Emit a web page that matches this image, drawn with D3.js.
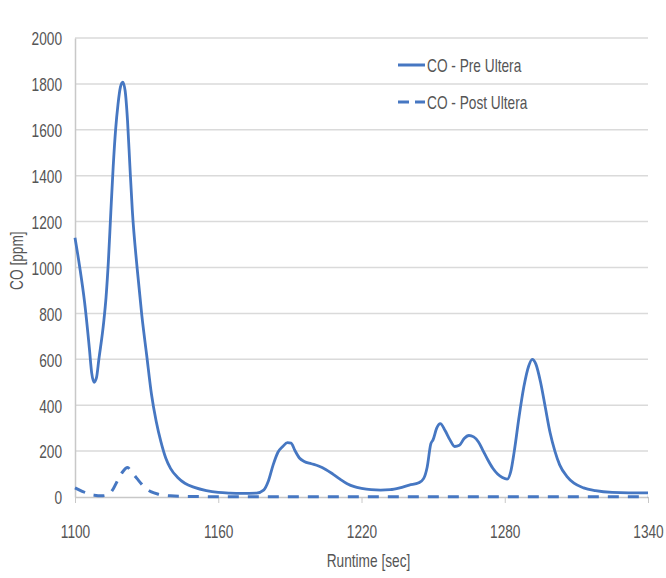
<!DOCTYPE html>
<html>
<head>
<meta charset="utf-8">
<script src="https://cdn.jsdelivr.net/npm/d3@7"></script>
<style>
  body { margin: 0; background: #fff; }
  text { font-family: "Liberation Sans", Arial, sans-serif; fill: #555; }
</style>
</head>
<body>
<div id="chart"></div>
<script>
// CO concentration over runtime
var preTime = [1100, 1102, 1104, 1106, 1107, 1108, 1109, 1110, 1112, 1113, 1114, 1115, 1116, 1117, 1118,
  1119, 1120, 1121, 1122, 1123, 1124, 1126, 1128, 1130, 1132, 1134, 1136, 1138, 1140, 1143, 1146, 1150,
  1155, 1160, 1165, 1170, 1176, 1179, 1181, 1183, 1185, 1187, 1189, 1190.5, 1192, 1194, 1196, 1199, 1202,
  1205, 1208, 1211, 1214, 1217, 1220, 1224, 1228, 1232, 1236, 1240, 1244, 1246, 1247.5, 1249, 1250, 1251.5,
  1253, 1255, 1257, 1259, 1261, 1263, 1265, 1267, 1269, 1271, 1273, 1275, 1277, 1279, 1281, 1282.5, 1284,
  1286, 1288, 1290, 1291.5, 1293, 1295, 1297, 1299, 1301, 1303, 1306, 1309, 1313, 1318, 1325, 1332, 1340];
var preCO = [1130, 1000, 850, 650, 540, 500, 520, 600, 760, 870, 1030, 1240, 1440, 1600, 1710,
  1785, 1808, 1770, 1640, 1440, 1250, 1000, 790, 620, 450, 330, 240, 170, 125, 85, 60, 42,
  28, 20, 17, 16, 17, 30, 70, 140, 195, 220, 237, 235, 205, 170, 155, 145, 135,
  120, 100, 78, 58, 45, 38, 32, 30, 32, 40, 52, 62, 80, 130, 230, 250, 300,
  320, 290, 250, 220, 225, 255, 268, 262, 240, 200, 160, 125, 100, 85, 78, 110, 200,
  350, 480, 570, 600, 580, 500, 390, 280, 200, 140, 90, 60, 40, 28, 20, 18, 18];

var postTime = [1100, 1103, 1106, 1108, 1111, 1114, 1116, 1118, 1120, 1122, 1124, 1126, 1128, 1130, 1132,
  1135, 1140, 1150, 1160, 1200, 1250, 1300, 1340];
var postCO = [40, 25, 12, 8, 5, 10, 35, 75, 110, 128, 105, 80, 55, 35, 22,
  12, 5, 2, 1, 1, 1, 1, 1];

var yTicks = [0, 200, 400, 600, 800, 1000, 1200, 1400, 1600, 1800, 2000];
var xTicks = [1100, 1160, 1220, 1280, 1340];
var seriesNames = ['CO - Pre Ultera', 'CO - Post Ultera'];

var width = 666, height = 578,
    margin = {top: 38, right: 18, bottom: 81, left: 75},
    color = '#4677c2',
    squeeze = 0.72;

var svg = d3.select('#chart').append('svg')
  .attr('width', width)
  .attr('height', height);

// the reference type is tall and narrow, so squeeze each label sideways
function condense(sel) {
  sel.each(function () {
    var w = this.getComputedTextLength();
    d3.select(this)
      .attr('textLength', w * squeeze)
      .attr('lengthAdjust', 'spacingAndGlyphs');
  });
}

var x = d3.scaleLinear().domain([1100, 1340]).range([margin.left, width - margin.right]);
var y = d3.scaleLinear().domain([0, 2000]).range([height - margin.bottom, margin.top]);

// gridlines
svg.append('g').selectAll('line')
  .data(yTicks.slice(1))
  .enter().append('line')
  .attr('x1', x(1100)).attr('x2', x(1340))
  .attr('y1', function (d) { return y(d); })
  .attr('y2', function (d) { return y(d); })
  .attr('stroke', '#dadada')
  .attr('stroke-width', 1.5);

// y axis
var yAxis = svg.append('g')
  .attr('transform', 'translate(' + margin.left + ',0)')
  .call(d3.axisLeft(y).tickValues(yTicks).tickSize(0).tickPadding(13).tickFormat(d3.format('d')));
yAxis.select('.domain').attr('stroke', '#c8c8c8').attr('stroke-width', 1.5);
yAxis.selectAll('text').style('font-size', '19px').attr('dy', '0.36em').call(condense);

// x axis
var xAxis = svg.append('g')
  .attr('transform', 'translate(0,' + y(0) + ')')
  .call(d3.axisBottom(x).tickValues(xTicks).tickSize(6).tickSizeOuter(0).tickPadding(22).tickFormat(d3.format('d')));
xAxis.select('.domain').attr('stroke', '#c8c8c8').attr('stroke-width', 1.5);
xAxis.selectAll('line').attr('stroke', '#c8c8c8');
xAxis.selectAll('text').style('font-size', '19px').call(condense);

// axis titles
svg.append('text')
  .attr('x', x(1220) + 7)
  .attr('y', 567)
  .attr('text-anchor', 'middle')
  .style('font-size', '19px')
  .text('Runtime [sec]')
  .call(condense);

svg.append('text')
  .attr('transform', 'translate(23,' + y(1030) + ') rotate(-90)')
  .attr('text-anchor', 'middle')
  .style('font-size', '19px')
  .text('CO [ppm]')
  .call(condense);

// lines
var line = d3.line()
  .x(function (d) { return x(d[0]); })
  .y(function (d) { return y(d[1]); })
  .curve(d3.curveMonotoneX);

svg.append('path')
  .datum(d3.zip(postTime, postCO))
  .attr('fill', 'none')
  .attr('stroke', color)
  .attr('stroke-width', 3)
  .attr('stroke-dasharray', '11,9')
  .attr('d', line);

svg.append('path')
  .datum(d3.zip(preTime, preCO))
  .attr('fill', 'none')
  .attr('stroke', color)
  .attr('stroke-width', 2.8)
  .attr('stroke-linejoin', 'round')
  .attr('d', line);

// legend
var legend = svg.append('g').attr('transform', 'translate(398,65)');
seriesNames.forEach(function (name, i) {
  var row = legend.append('g').attr('transform', 'translate(0,' + (i * 37) + ')');
  row.append('line')
    .attr('x1', 0).attr('x2', 27)
    .attr('stroke', color)
    .attr('stroke-width', 3)
    .attr('stroke-dasharray', i === 1 ? '11,6' : null);
  row.append('text')
    .attr('x', 29)
    .attr('dy', '0.36em')
    .style('font-size', '19px')
    .text(name)
    .call(condense);
});
</script>
</body>
</html>
